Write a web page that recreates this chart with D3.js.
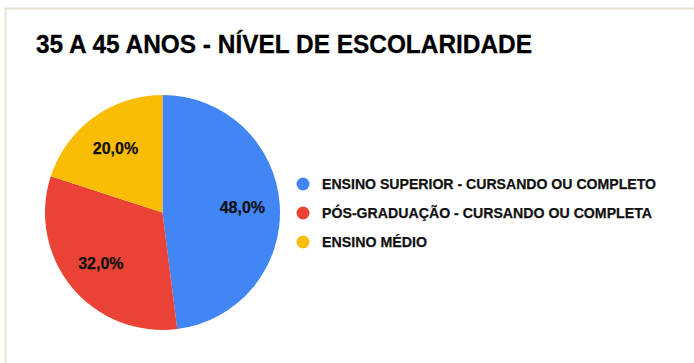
<!DOCTYPE html>
<html>
<head>
<meta charset="utf-8">
<script src="https://cdn.jsdelivr.net/npm/d3@7"></script>
<style>
  html, body { margin: 0; padding: 0; background: #ffffff; }
  svg { display: block; }
</style>
</head>
<body>
<svg id="chart" width="694" height="363"></svg>
<script>
// Education level, ages 35 to 45
const title = "35 A 45 ANOS - NÍVEL DE ESCOLARIDADE";
const categories = [
  "ENSINO SUPERIOR - CURSANDO OU COMPLETO",
  "PÓS-GRADUAÇÃO - CURSANDO OU COMPLETA",
  "ENSINO MÉDIO"
];
const values = [48.0, 32.0, 20.0];
const colors = ["#4285F4", "#EA4335", "#FBBC04"];

const W = 694, H = 363;
const svg = d3.select("#chart");

// frame lines along the top and left edges
svg.append("rect").attr("x", 0).attr("y", 0).attr("width", W).attr("height", H).attr("fill", "#fff");
svg.append("line").attr("x1", 5.5).attr("x2", 5.5).attr("y1", 8).attr("y2", H)
  .attr("stroke", "#e6e2cf").attr("stroke-width", 2);
svg.append("line").attr("x1", 5).attr("x2", W).attr("y1", 8.5).attr("y2", 8.5)
  .attr("stroke", "#e6e2cf").attr("stroke-width", 2);

// title
svg.append("text")
  .attr("x", 36).attr("y", 52.5)
  .attr("font-family", "'Liberation Sans', Arial, sans-serif")
  .attr("font-weight", "bold")
  .attr("font-size", 25)
  .attr("fill", "#000")
  .attr("stroke", "#000")
  .attr("stroke-width", 0.3)
  .attr("textLength", 496)
  .attr("lengthAdjust", "spacingAndGlyphs")
  .text(title);

// pie
const cx = 162.5, cy = 212.5, R = 117.5;
const color = d3.scaleOrdinal().domain(categories).range(colors);
const pie = d3.pie().sort(null).value(d => d.value);
const data = categories.map((c, i) => ({ name: c, value: values[i] }));
const arcs = pie(data);
const arc = d3.arc().innerRadius(0).outerRadius(R);
const labelArc = d3.arc().innerRadius(80).outerRadius(80);
const total = d3.sum(values);
const fmt = v => d3.format(".1f")(v).replace(".", ",") + "%";

const g = svg.append("g").attr("transform", `translate(${cx},${cy})`);
g.selectAll("path.slice")
  .data(arcs)
  .join("path")
  .attr("class", "slice")
  .attr("d", arc)
  .attr("fill", d => color(d.data.name));

g.selectAll("text.pct")
  .data(arcs)
  .join("text")
  .attr("class", "pct")
  .attr("transform", d => `translate(${labelArc.centroid(d)})`)
  .attr("text-anchor", "middle")
  .attr("dy", "0.36em")
  .attr("font-family", "'Liberation Sans', Arial, sans-serif")
  .attr("font-weight", "bold")
  .attr("font-size", 16)
  .attr("fill", "#111")
  .attr("stroke", "#111")
  .attr("stroke-width", 0.25)
  .text(d => fmt(d.data.value / total * 100));

// legend
const legendY = d3.scalePoint().domain(categories).range([184, 242]);
const legend = svg.append("g");
const items = legend.selectAll("g.item")
  .data(categories)
  .join("g")
  .attr("class", "item")
  .attr("transform", d => `translate(303,${legendY(d)})`);
items.append("circle").attr("r", 6.5).attr("fill", d => color(d));
const legendWidths = [334, 330, 105];
items.append("text")
  .attr("x", 19)
  .attr("dy", "0.36em")
  .attr("font-family", "'Liberation Sans', Arial, sans-serif")
  .attr("font-weight", "bold")
  .attr("font-size", 15)
  .attr("fill", "#111")
  .attr("stroke", "#111")
  .attr("stroke-width", 0.25)
  .attr("textLength", (d, i) => legendWidths[i])
  .attr("lengthAdjust", "spacingAndGlyphs")
  .text(d => d);
</script>
</body>
</html>
